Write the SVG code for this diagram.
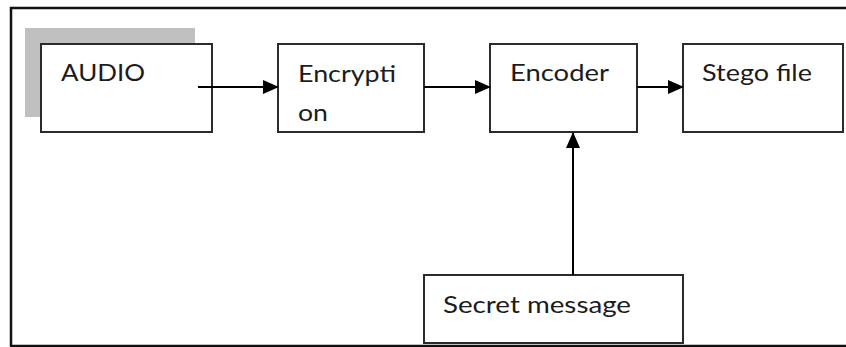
<svg xmlns="http://www.w3.org/2000/svg" width="846" height="347" viewBox="0 0 846 347">
  <defs>
    <style>
      .box { fill: #ffffff; stroke: #2b2b2b; stroke-width: 2; }
      .label { font-family: Lato, "Open Sans", "Liberation Sans", sans-serif; font-size: 24px; fill: #1c1c1c; }
      .link { stroke: #000000; stroke-width: 2; fill: none; marker-end: url(#arrow); }
      .frame { stroke: #111111; stroke-width: 2.5; fill: none; }
    </style>
    <marker id="arrow" markerWidth="16" markerHeight="14" refX="15" refY="7" orient="auto" markerUnits="userSpaceOnUse">
      <path d="M0,0 L16,7 L0,14 Z" fill="#000000"/>
    </marker>
  </defs>

  <rect x="0" y="0" width="846" height="347" fill="#ffffff"/>

  <!-- open frame: top, left and bottom edges -->
  <path class="frame" d="M846,8 L11,8 L11,346 L846,346"/>

  <g id="audio">
    <rect x="25" y="28" width="170" height="89" fill="#c0c0c0"/>
    <rect class="box" x="41" y="44" width="171" height="88"/>
    <text class="label" x="61" y="81" textLength="84" lengthAdjust="spacingAndGlyphs">AUDIO</text>
  </g>

  <g id="encryption">
    <rect class="box" x="278" y="44" width="146" height="88"/>
    <text class="label" x="298" y="82" textLength="98" lengthAdjust="spacingAndGlyphs">Encrypti</text>
    <text class="label" x="298" y="121" textLength="30" lengthAdjust="spacingAndGlyphs">on</text>
  </g>

  <g id="encoder">
    <rect class="box" x="490" y="44" width="147" height="88"/>
    <text class="label" x="510" y="81" textLength="99" lengthAdjust="spacingAndGlyphs">Encoder</text>
  </g>

  <g id="stego-file">
    <rect class="box" x="683" y="44" width="160" height="88"/>
    <text class="label" x="702" y="81" textLength="110" lengthAdjust="spacingAndGlyphs">Stego file</text>
  </g>

  <g id="secret-message">
    <rect class="box" x="424" y="275" width="259" height="68"/>
    <text class="label" x="443" y="313" textLength="188" lengthAdjust="spacingAndGlyphs">Secret message</text>
  </g>

  <g id="connectors">
    <line class="link" x1="198" y1="87" x2="278" y2="87"/>
    <line class="link" x1="424" y1="87" x2="490" y2="87"/>
    <line class="link" x1="637" y1="87" x2="683" y2="87"/>
    <line class="link" x1="573" y1="275" x2="573" y2="133"/>
  </g>
</svg>
